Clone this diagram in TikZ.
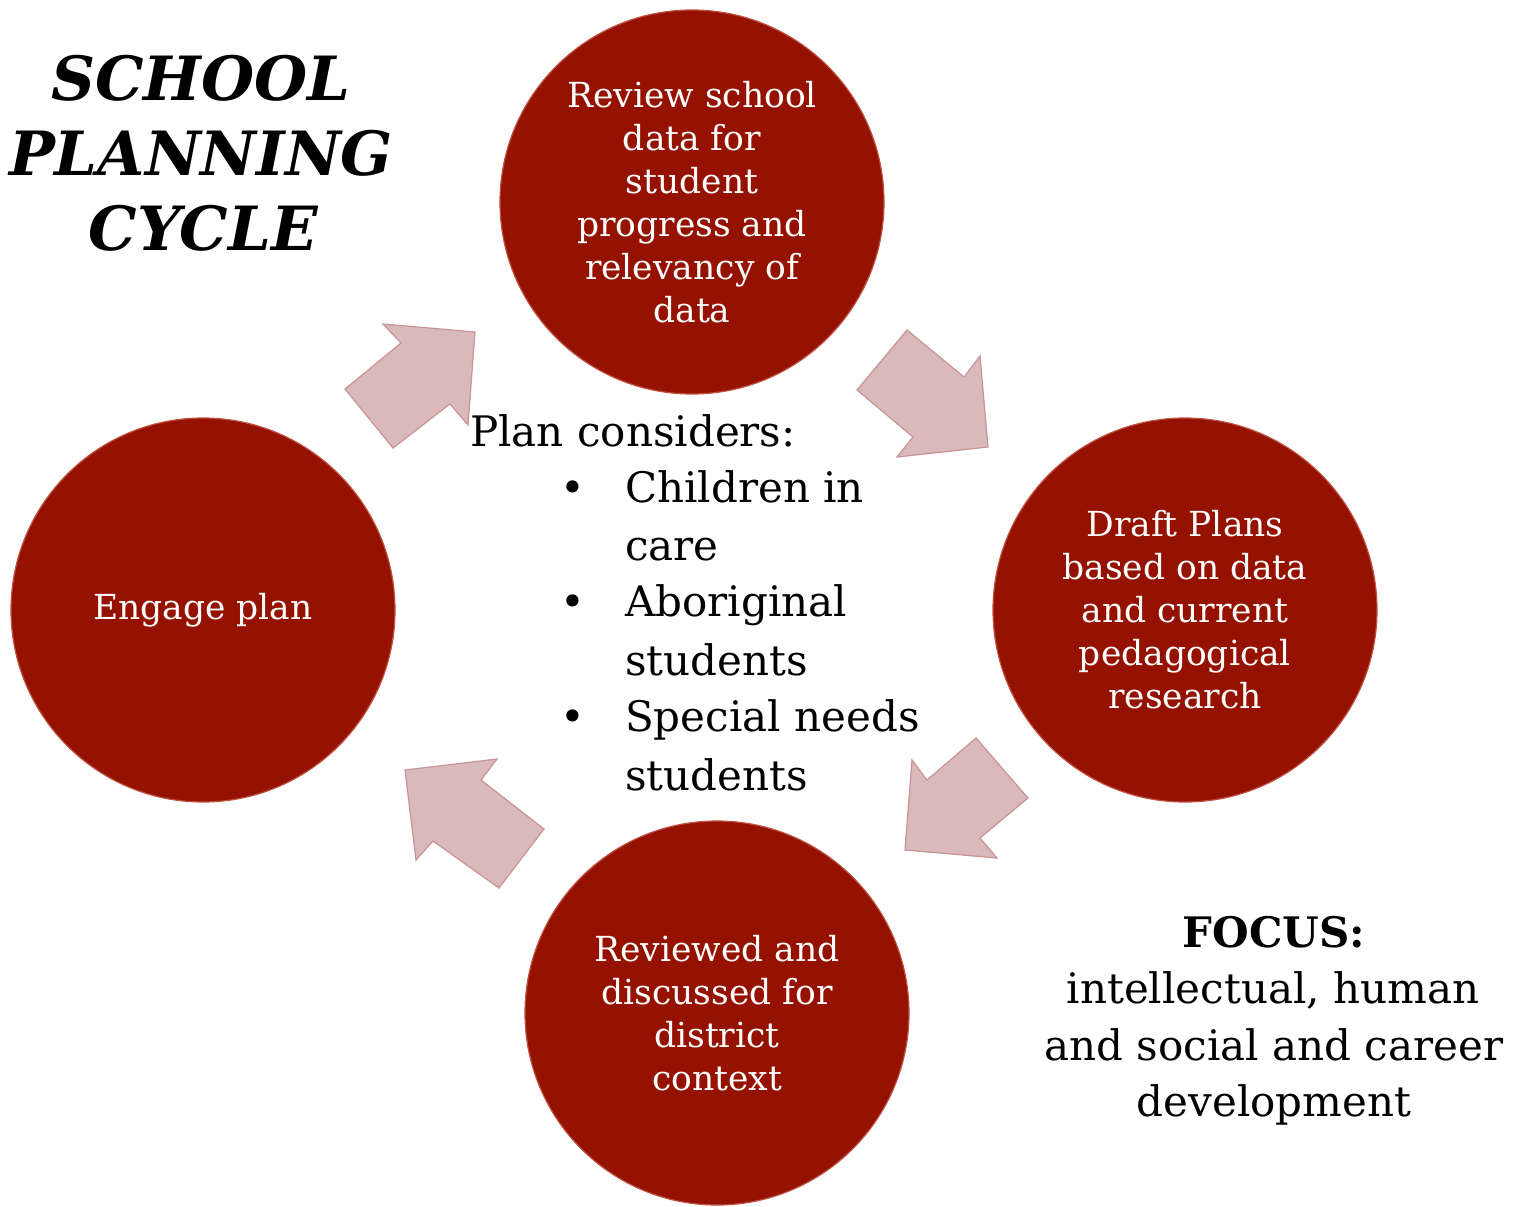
\documentclass[tikz,border=0pt]{standalone}
\usepackage{fontspec}
\setmainfont{DejaVu Serif}
\begin{document}
\begin{tikzpicture}[x=1pt,y=-1pt,
  cyc/.style={circle,fill=cycred,draw=cycedge,line width=1.2pt,minimum size=384pt,inner sep=0pt,
    text=white,align=center,font=\fontsize{34.5}{43}\selectfont},
  blockarrow/.style={fill=arrpink,draw=arredge,line width=1.2pt,line join=miter},
  bodytext/.style={font=\fontsize{42}{58}\selectfont,inner sep=0pt},
  titletext/.style={font=\fontsize{61}{75}\selectfont\bfseries\itshape,inner sep=0pt,anchor=base}]
\definecolor{cycred}{HTML}{961200}
\definecolor{cycedge}{HTML}{C05040}
\definecolor{arrpink}{HTML}{D9B9B9}
\definecolor{arredge}{HTML}{C89494}
\useasboundingbox (0,0) rectangle (1515,1207);
\fill[white] (0,0) rectangle (1515,1207);
% title
\node[titletext] (t1) at (201,100) {SCHOOL};
\node[titletext] (t2) at (201,175) {PLANNING};
\node[titletext] (t3) at (203,250) {CYCLE};
% circles
\node[cyc] (review) at (692,202) {Review school\\data for\\student\\progress and\\relevancy of\\data};
\node[cyc] (draft) at (1185,610) {Draft Plans\\based on data\\and current\\pedagogical\\research};
\node[cyc] (discuss) at (717,1013) {Reviewed and\\discussed for\\district\\context};
\node[cyc] (engage) at (203,610) {Engage plan};
% block arrows
\draw[blockarrow] (345,389) -- (401,343) -- (383,324) -- (475,332) -- (468,425) -- (450,404) -- (393,448) -- cycle;
\draw[blockarrow] (857,390) -- (907,330) -- (964,377) -- (980,356) -- (988,447) -- (897,457) -- (913,437) -- cycle;
\draw[blockarrow] (544,829) -- (499,888) -- (433,841) -- (416,860) -- (405,770) -- (497,759) -- (481,780) -- cycle;
\draw[blockarrow] (1028,798) -- (976,738) -- (927,780) -- (912,760) -- (905,850) -- (997,858) -- (980,838) -- cycle;
% centre text
\node[bodytext,anchor=base west] (plan) at (470,446) {Plan considers:};
\node[bodytext,anchor=base] (b1) at (573,502) {•};
\node[bodytext,anchor=base west] (l1) at (625,502) {Children in};
\node[bodytext,anchor=base west] (l1b) at (625,560) {care};
\node[bodytext,anchor=base] (b2) at (573,616) {•};
\node[bodytext,anchor=base west] (l2) at (625,616) {Aboriginal};
\node[bodytext,anchor=base west] (l2b) at (625,675) {students};
\node[bodytext,anchor=base] (b3) at (573,731) {•};
\node[bodytext,anchor=base west] (l3) at (625,731) {Special needs};
\node[bodytext,anchor=base west] (l3b) at (625,790) {students};
% focus
\node[bodytext,anchor=base,font=\fontsize{42}{57}\selectfont\bfseries] (focus) at (1274,947) {FOCUS:};
\node[bodytext,anchor=base] (f1) at (1273,1003) {intellectual, human};
\node[bodytext,anchor=base] (f2) at (1274,1060) {and social and career};
\node[bodytext,anchor=base] (f3) at (1274,1116) {development};
\end{tikzpicture}
\end{document}
